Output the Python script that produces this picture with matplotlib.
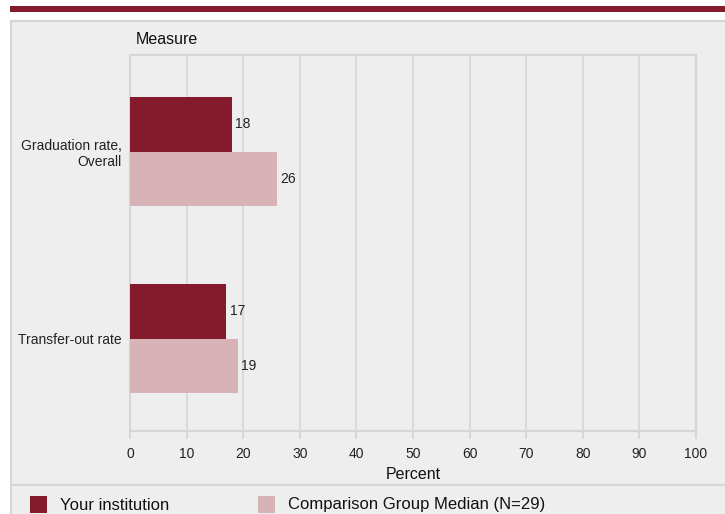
import matplotlib.pyplot as plt
from matplotlib.patches import Rectangle
from matplotlib.lines import Line2D

plt.rcParams['font.family'] = ['Liberation Sans', 'DejaVu Sans']

# datos
measures = ["Graduation rate,\nOverall", "Transfer-out rate"]
your_inst = [18, 17]
comparison = [26, 19]
series_names = ["Your institution", "Comparison Group Median (N=29)"]
x_ticks = [0, 10, 20, 30, 40, 50, 60, 70, 80, 90, 100]

dark = "#841b2d"
light = "#d7b3b8"
panel = "#eeeeee"
edge = "#d6d6d6"
grid_c = "#dadada"

W, H = 725, 514
fig = plt.figure(figsize=(W / 100, H / 100), dpi=100)
fig.patch.set_facecolor("white")

def fx(px):
    return px / W

def fy(py):
    return 1 - py / H

# banda roja arriba y panel gris (detrás de los ejes)
fig.patches.append(Rectangle((fx(10), fy(11.5)), fx(715), 6 / H, transform=fig.transFigure,
                             facecolor=dark, edgecolor="none", zorder=-2))
fig.patches.append(Rectangle((fx(11), fy(530)), fx(730), (530 - 21) / H, transform=fig.transFigure,
                             facecolor=panel, edgecolor=edge, linewidth=1.5, zorder=-2))
fig.lines.append(Line2D([fx(11), 1], [fy(485), fy(485)], transform=fig.transFigure,
                        color=edge, linewidth=1.5, zorder=-1))

# ejes
ax = fig.add_axes([fx(130), fy(430.5), fx(566), (430.5 - 55) / H])
ax.set_facecolor(panel)
pos = list(range(len(measures)))
h = 0.291
ax.barh([p - h / 2 for p in pos], your_inst, height=h, color=dark, zorder=3)
ax.barh([p + h / 2 for p in pos], comparison, height=h, color=light, zorder=3)

for p, v in zip(pos, your_inst):
    ax.text(v + 0.6, p - h / 2, str(v), va="center", ha="left", fontsize=10, color="#222222")
for p, v in zip(pos, comparison):
    ax.text(v + 0.6, p + h / 2, str(v), va="center", ha="left", fontsize=10, color="#222222")

ax.set_xlim(0, 100)
ax.set_ylim(1.491, -0.517)
ax.set_xticks(x_ticks)
ax.set_xticklabels([str(t) for t in x_ticks], fontsize=10, color="#222222")
ax.set_yticks(pos)
ax.set_yticklabels(measures, fontsize=10, color="#222222", ha="right")
ax.tick_params(axis="y", length=0, pad=6)
ax.tick_params(axis="x", length=6, width=1.5, color=edge, pad=6)
ax.xaxis.grid(True, color=grid_c, linewidth=1.5, zorder=0)
ax.set_axisbelow(True)
for s in ax.spines.values():
    s.set_color(edge)
    s.set_linewidth(1.5)

ax.set_xlabel("Percent", fontsize=11.5, color="#111111", labelpad=4.5)
fig.text(fx(136), fy(40), "Measure", fontsize=11.5, va="center", ha="left", color="#111111")

# leyenda
fig.patches.append(Rectangle((fx(30), fy(513)), fx(17), 17 / H, transform=fig.transFigure,
                             facecolor=dark, edgecolor="none"))
fig.text(fx(60), fy(505), series_names[0], fontsize=12, va="center", ha="left", color="#111111")
fig.patches.append(Rectangle((fx(258), fy(513)), fx(17), 17 / H, transform=fig.transFigure,
                             facecolor=light, edgecolor="none"))
fig.text(fx(288), fy(505), series_names[1], fontsize=12, va="center", ha="left", color="#111111")

plt.savefig("out.png", dpi=100, facecolor="white")
